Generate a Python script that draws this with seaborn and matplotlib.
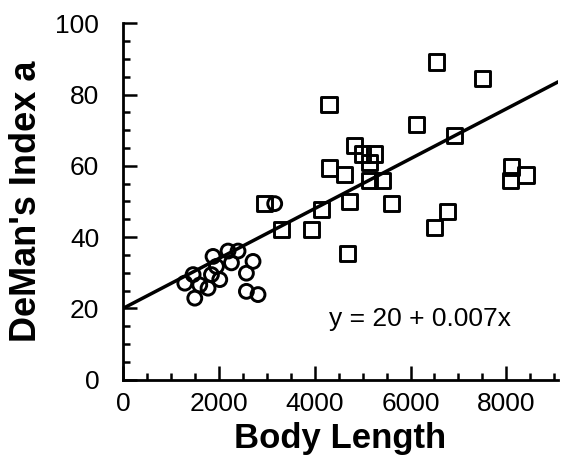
import numpy as np
import pandas as pd
import matplotlib
matplotlib.use("Agg")
import matplotlib.pyplot as plt
import seaborn as sns
from matplotlib.ticker import MultipleLocator

# ---- data ----
square_x = [6535, 7494, 4298, 6119, 6917, 4833, 5006, 5250, 5146, 4313,
            4625, 5146, 5423, 8098, 8410, 8083, 5598, 6777, 6500, 4729,
            4140, 3931, 3306, 4688, 2958]
square_y = [89.1, 84.4, 77.1, 71.5, 68.6, 65.6, 63.3, 63.3, 61.0, 59.4,
            57.5, 55.8, 55.8, 59.7, 57.4, 55.8, 49.4, 47.3, 42.6, 50.1,
            47.8, 42.2, 42.2, 35.5, 49.4]
circle_x = [3167, 1881, 2194, 2402, 2715, 2265, 2577, 1465, 1848, 2021,
            1292, 1604, 1777, 1500, 2577, 2819, 1952]
circle_y = [49.4, 34.6, 36.1, 36.1, 33.2, 32.8, 29.9, 29.5, 29.5, 28.1,
            27.1, 26.6, 25.7, 22.9, 24.8, 23.9, 31.8]
intercept = 20
slope = 0.007
equation_label = "y = 20 + 0.007x"
x_label = "Body Length"
y_label = "DeMan's Index a"

sns.set_style("white")
plt.rcParams['font.family'] = ['Liberation Sans', 'DejaVu Sans']
plt.rcParams['text.color'] = 'black'
plt.rcParams['axes.labelcolor'] = 'black'
plt.rcParams['xtick.color'] = 'black'
plt.rcParams['ytick.color'] = 'black'

fig = plt.figure(figsize=(5.61, 4.73), dpi=100)
ax = fig.add_axes([0.219, 0.197, 0.776, 0.754])

xlim = (0, 9080)
ylim = (0, 100)

sq = pd.DataFrame({"x": square_x, "y": square_y})
ci = pd.DataFrame({"x": circle_x, "y": circle_y})

sns.scatterplot(data=sq, x="x", y="y", marker="s", s=120, fc="none",
                ec="black", linewidth=2.1, ax=ax, zorder=3)
sns.scatterplot(data=ci, x="x", y="y", marker="o", s=100, fc="none",
                ec="black", linewidth=2.1, ax=ax, zorder=3)

lx = np.array(xlim, dtype=float)
sns.lineplot(x=lx, y=intercept + slope * lx, color="black", linewidth=2.5,
             ax=ax, zorder=2)

ax.set_xlim(*xlim)
ax.set_ylim(*ylim)
ax.xaxis.set_major_locator(MultipleLocator(2000))
ax.xaxis.set_minor_locator(MultipleLocator(500))
ax.yaxis.set_major_locator(MultipleLocator(20))
ax.yaxis.set_minor_locator(MultipleLocator(5))

for s in ["top", "right"]:
    ax.spines[s].set_visible(False)
for s in ["left", "bottom"]:
    ax.spines[s].set_linewidth(2.0)
    ax.spines[s].set_color("black")

ax.tick_params(which="both", bottom=True, left=True, top=False, right=False)
ax.tick_params(which="major", direction="in", length=10, width=1.8,
               labelsize=19, color="black", labelcolor="black")
ax.tick_params(which="minor", direction="in", length=5, width=1.8,
               color="black")
ax.tick_params(axis="y", which="major", pad=17)
ax.tick_params(axis="x", which="major", pad=9)

ax.set_xlabel(x_label, fontsize=25, fontweight="bold", labelpad=4, color="black")
ax.set_ylabel(y_label, fontsize=26, fontweight="bold", labelpad=8, color="black")

ax.text(4300, 17, equation_label, fontsize=19, ha="left", va="center",
        color="black")

fig.savefig("out.png", dpi=100)
